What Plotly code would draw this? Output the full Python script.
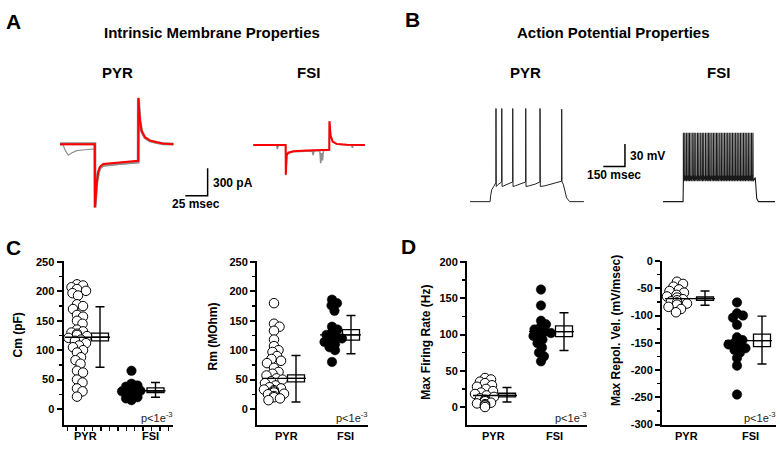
import plotly.graph_objects as go

W, H = 780, 451
FONT = "Liberation Sans"

# ---------------- DATA ----------------
# Panel A: voltage-clamp current traces (time in ms, current in pA)
PYR_A_T = [0, 39, 39.2, 40.0, 41.1, 42.9, 44.8, 48.5, 55, 63.5, 87.6, 87.8, 88.6, 89.6, 91.4, 95.2, 100.8, 108.3, 115, 127]
PYR_A_RED = [0, 0, -685, -560, -420, -297, -244, -215, -207, -201, -180, 505, 380, 251, 145, 74, 39, 21, 8, 0]
PYR_A_GRAY1 = [4, 4, -690, -570, -430, -310, -258, -228, -220, -212, -192, 498, 372, 246, 140, 72, 36, 18, 6, 3]
PYR_A_GRAY2_T = [0, 3.5, 6, 9.3, 13, 18.7, 28, 37.3, 39, 39.2, 40.0, 41.1, 42.9, 44.8, 48.5, 63.5, 87.6, 87.8, 89.6, 91.4, 95.2, 100.8, 108.3, 127]
PYR_A_GRAY2 = [-5, -8, -70, -120, -95, -70, -60, -50, -50, -680, -560, -430, -320, -265, -235, -220, -200, 480, 240, 135, 68, 32, 15, 0]

FSI_A_T = [0, 36.2, 36.4, 37.4, 39.2, 44.8, 60, 85.1, 85.3, 86.6, 88.9, 93.4, 105, 125]
FSI_A_RED = [0, 0, -324, -112, -85, -70, -62, -53, 258, 99, 36, 11, 3, 0]
FSI_A_GRAY_T = [0, 26, 27, 28, 36.2, 36.4, 37.4, 39.2, 44.8, 60, 66, 67, 68, 74.5, 75.5, 76.5, 77.5, 78.5, 85.1, 85.3, 86.6, 88.9, 93.4, 105, 110, 111, 112, 125]
FSI_A_GRAY = [-5, -5, -45, -5, -5, -330, -115, -88, -75, -68, -66, -110, -66, -62, -200, -90, -170, -60, -58, 250, 95, 32, 8, 0, 0, -30, 0, 0]

SCALE_A = [25, 300]      # ms, pA
SCALE_B = [150, 30]      # ms, mV

# Panel B: current-clamp voltage traces (time in ms, voltage in mV)
PYR_B_T = [0, 139, 143, 151, 164, 179, 180, 182, 190, 205, 219, 220, 222, 235, 260, 295, 296, 298, 315, 350,
           385, 386, 388, 410, 450, 484, 485, 487, 520, 580, 634, 635, 637, 646, 656, 669, 690, 789]
PYR_B_V = [-70, -70, -62, -54, -50, -45, 53, -50, -48, -46, -44, 53, -50, -49, -47, -44, 53, -50, -49, -47,
           -44, 53, -50, -49, -47, -44, 53, -50, -49, -46, -43, 52, -44, -47, -56, -65, -70, -70]

FSI_B_SPIKES = [141, 151, 162, 173, 183, 194, 206, 216, 227, 239, 249, 261, 272, 282, 294, 305, 316, 326, 338,
                349, 360, 371, 381, 393, 404, 415, 426, 437, 448, 459, 470, 481, 492, 503, 514, 525, 536, 547,
                558, 569, 580, 591, 602, 613, 623]
FSI_B_LEVELS = dict(rest=-70, on=139, off=639, end=776, pre=-35, peak=21, ahp=-43)

# Panels C / D: individual cells
CM_PYR = [212, 210, 207, 204, 201, 197, 193, 178, 175, 170, 160, 157, 150, 145, 135, 132, 130, 128, 126, 124,
          121, 118, 116, 112, 108, 105, 100, 96, 88, 83, 77, 65, 62, 50, 45, 35, 30, 21]
CM_FSI = [65, 43, 40, 38, 35, 33, 31, 30, 29, 28, 27, 25, 23, 20, 18, 15]
RM_PYR = [180, 145, 140, 133, 118, 107, 100, 97, 90, 85, 82, 78, 70, 63, 60, 57, 52, 50, 47, 44, 40, 37, 35,
          33, 32, 30, 28, 26, 25, 22, 20, 18, 15]
RM_FSI = [186, 180, 176, 167, 140, 135, 130, 126, 122, 120, 117, 114, 110, 105, 100, 80]
FR_PYR = [40, 38, 35, 33, 30, 28, 25, 22, 20, 18, 16, 14, 12, 10, 9, 8, 6, 5, 4, 3, 2, 0]
FR_FSI = [162, 140, 119, 114, 110, 107, 104, 102, 100, 98, 93, 88, 82, 75, 70, 63]
RV_PYR = [-38, -42, -47, -52, -55, -58, -62, -65, -67, -70, -72, -74, -76, -78, -80, -84, -88, -94]
RV_FSI = [-76, -96, -100, -104, -117, -140, -145, -150, -153, -157, -160, -163, -168, -178, -192, -245]

# summaries: [mean, box_low, box_high, whisker_low, whisker_high]
CM_PYR_STATS = [122, 116, 129, 71, 174]
CM_FSI_STATS = [31, 28, 36, 20, 45]
RM_PYR_STATS = [52, 46, 58, 12, 91]
RM_FSI_STATS = [126, 117, 135, 94, 159]
FR_PYR_STATS = [16, 14, 19, 7, 27]
FR_FSI_STATS = [104, 97, 112, 78, 130]
RV_PYR_STATS = [-69, -72, -66, -81, -55]
RV_FSI_STATS = [-146, -157, -134, -189, -101]

GROUPS = ["PYR", "FSI"]
TICKS_CM = [0, 50, 100, 150, 200, 250]
TICKS_FR = [0, 50, 100, 150, 200]
TICKS_RV = [-300, -250, -200, -150, -100, -50, 0]
P_TEXT = "p<1e<sup>-3</sup>"

# ---------------- helpers ----------------
layout_axes = {}
annotations = []
traces = []
n_axes = [0]


def new_axes(xdom, ydom, xorig, xppu, yorig, yppu, xstyle=None, ystyle=None):
    """xdom/ydom in pixels; xorig=(px, value); yorig=(py, value)."""
    n_axes[0] += 1
    k = "" if n_axes[0] == 1 else str(n_axes[0])
    xr = [xorig[1] + (xdom[0] - xorig[0]) / xppu, xorig[1] + (xdom[1] - xorig[0]) / xppu]
    yr = [yorig[1] - (ydom[1] - yorig[0]) / yppu, yorig[1] + (yorig[0] - ydom[0]) / yppu]
    xa = dict(domain=[xdom[0] / W, xdom[1] / W], range=xr, anchor="y" + k, visible=False,
              fixedrange=True, showgrid=False, zeroline=False)
    ya = dict(domain=[1 - ydom[1] / H, 1 - ydom[0] / H], range=yr, anchor="x" + k, visible=False,
              fixedrange=True, showgrid=False, zeroline=False)
    if xstyle:
        xa.update(xstyle)
    if ystyle:
        ya.update(ystyle)
    layout_axes["xaxis" + k] = xa
    layout_axes["yaxis" + k] = ya
    return "x" + k, "y" + k


def text(px, py, s, size, bold=True, xanchor="center", yanchor="middle", angle=0, color="black"):
    annotations.append(dict(x=px / W, y=1 - py / H, xref="paper", yref="paper", text=s, showarrow=False,
                            xanchor=xanchor, yanchor=yanchor, textangle=angle,
                            font=dict(family=FONT, size=size, color=color,
                                      weight="bold" if bold else "normal")))


def line(xa, ya, xs, ys, color, width):
    traces.append(go.Scatter(x=xs, y=ys, xaxis=xa, yaxis=ya, mode="lines",
                             line=dict(color=color, width=width), hoverinfo="skip"))


def swarm(values, ppu, center, min_dist=6.0, step=0.5, max_off=10):
    ys = [v * ppu for v in values]
    order = sorted(range(len(values)), key=lambda i: -values[i])
    placed = []
    xs = [center] * len(values)
    for i in order:
        y = ys[i]
        best = None
        k = 0
        while best is None and k * step <= max_off:
            cands = [0.0] if k == 0 else [k * step, -k * step]
            for off in cands:
                if all((off - a) ** 2 + (y - b) ** 2 >= min_dist ** 2 for a, b in placed):
                    best = off
                    break
            k += 1
        if best is None:
            best = 0.0
        placed.append((best, y))
        xs[i] = center + best
    return xs


# ---------------- Panel A ----------------
A_PPU_X, A_PPU_Y = 0.893, 0.0944
xa, ya = new_axes((55, 180), (85, 215), (60, 0), A_PPU_X, (142, 0), A_PPU_Y)
line(xa, ya, PYR_A_GRAY2_T, PYR_A_GRAY2, "#8f8f8f", 1.2)
line(xa, ya, PYR_A_T, PYR_A_GRAY1, "#8f8f8f", 3)
line(xa, ya, PYR_A_T, PYR_A_RED, "#ff0000", 2)

xa, ya = new_axes((248, 372), (85, 215), (253.3, 0), A_PPU_X, (142.7, 0), A_PPU_Y)
line(xa, ya, FSI_A_GRAY_T, FSI_A_GRAY, "#8f8f8f", 1.5)
line(xa, ya, FSI_A_T, FSI_A_RED, "#ff0000", 2)

xa, ya = new_axes((180, 215), (160, 200), (185.3, 0), A_PPU_X, (195, 0), A_PPU_Y)
line(xa, ya, [0, SCALE_A[0], SCALE_A[0]], [0, 0, SCALE_A[1]], "black", 1.5)
text(210.5, 182, f"{SCALE_A[1]} pA", 12, xanchor="left")
text(196, 203, f"{SCALE_A[0]} msec", 12)

text(14, 16, "A", 21)
text(212, 27, "Intrinsic Membrane Properties", 15)
text(117, 68, "PYR", 15)
text(308, 68, "FSI", 15)

# ---------------- Panel B ----------------
B_PPU_X, B_PPU_Y = 0.1444, 0.778
xa, ya = new_axes((465, 590), (95, 210), (470, 0), B_PPU_X, (201, -70), B_PPU_Y)
line(xa, ya, PYR_B_T, PYR_B_V, "#222222", 1)

L = FSI_B_LEVELS
fsi_t = [0, L["on"], L["on"] + 2]
fsi_v = [L["rest"], L["rest"], L["ahp"]]
for s in FSI_B_SPIKES:
    fsi_t += [s - 0.6, s, s + 1.2]
    fsi_v += [L["pre"], L["peak"], L["ahp"]]
fsi_t += [L["off"], L["off"] + 4, L["off"] + 10, L["off"] + 22, L["end"]]
fsi_v += [L["pre"] - 3, -55, -66, L["rest"], L["rest"]]
xa, ya = new_axes((658, 780), (95, 210), (663, 0), B_PPU_X, (201, -70), B_PPU_Y)
line(xa, ya, fsi_t, fsi_v, "#1a1a1a", 1.1)

xa, ya = new_axes((598, 632), (135, 170), (603.3, 0), B_PPU_X, (165, 0), B_PPU_Y)
line(xa, ya, [0, SCALE_B[0], SCALE_B[0]], [0, 0, SCALE_B[1]], "black", 1.5)
text(628, 154, f"{SCALE_B[1]} mV", 12, xanchor="left")
text(614, 174, f"{SCALE_B[0]} msec", 12)

text(412, 14, "B", 21)
text(613, 27, "Action Potential Properties", 15)
text(525, 68, "PYR", 15)
text(718, 68, "FSI", 15)

text(14, 248, "C", 21)
text(408, 247, "D", 21)


# ---------------- Panels C / D ----------------
def scatter_panel(x0, x1, yorig, ppu, ticks, pos, lab, vals, stats, ytitle, tpos, xticks=None):
    minor = [(a + b) / 2 for a, b in zip(ticks[:-1], ticks[1:])]
    xstyle = dict(visible=True, showline=True, linewidth=2, linecolor="black", showticklabels=False,
                  ticks="", tickmode="array", tickvals=[])
    if xticks is not None:
        xstyle.update(ticks="outside", tickvals=xticks, ticklen=4, tickwidth=1.5, tickcolor="black")
    ystyle = dict(visible=True, showline=True, linewidth=2, linecolor="black", ticks="outside",
                  ticklen=5, tickwidth=2, tickcolor="black", tickmode="array", tickvals=ticks,
                  ticktext=[str(t) for t in ticks],
                  tickfont=dict(family=FONT, size=11, color="black", weight="bold"),
                  minor=dict(tickmode="array", tickvals=minor, ticks="outside", ticklen=3,
                             tickwidth=1.5, tickcolor="black"))
    xa, ya = new_axes((x0, x1), (262, 430), (x0, 0), 1.0, yorig, ppu, xstyle, ystyle)
    for g in range(2):
        pts_c, box_c = pos[2 * g], pos[2 * g + 1]
        mean, blo, bhi, wlo, whi = stats[g]
        traces.append(go.Scatter(x=[box_c], y=[mean], xaxis=xa, yaxis=ya, mode="markers",
                                 marker=dict(size=1, color="rgba(0,0,0,0)"), hoverinfo="skip",
                                 error_y=dict(type="data", symmetric=False, array=[whi - mean],
                                              arrayminus=[mean - wlo], width=4.5, thickness=1.4,
                                              color="black")))
        traces.append(go.Box(x=[box_c], q1=[blo], median=[mean], q3=[bhi], lowerfence=[blo],
                             upperfence=[bhi], width=17, fillcolor="white", boxpoints=False,
                             line=dict(color="black", width=1.3), xaxis=xa, yaxis=ya, hoverinfo="skip"))
        xs = swarm(vals[g], ppu, pts_c)
        if g == 0:
            mk = dict(size=9.5, color="white", line=dict(color="black", width=1))
        else:
            mk = dict(size=9.5, color="black", line=dict(color="black", width=0.5))
        traces.append(go.Scatter(x=xs, y=vals[g], xaxis=xa, yaxis=ya, mode="markers", marker=mk,
                                 cliponaxis=False, hoverinfo="skip"))
        line(xa, ya, [pts_c - 12, box_c + 10], [mean, mean], "black", 1.4)
        text(x0 + lab[g], 441.7, GROUPS[g], 11)
    text(x1 + 2, 422, P_TEXT, 11, bold=False, xanchor="right", color="#222222")
    text(tpos[0], tpos[1], ytitle, 12, angle=-90)


scatter_panel(63.5, 173, (414, 0), 0.604, TICKS_CM, [13.5, 36.5, 68, 92], [21.5, 87],
              [CM_PYR, CM_FSI], [CM_PYR_STATS, CM_FSI_STATS], "Cm (pF)", (18.5, 338),
              xticks=[4 + 8.4 * k for k in range(13)])
scatter_panel(257, 368, (414, 0), 0.604, TICKS_CM, [17, 39, 75, 94], [29.5, 88],
              [RM_PYR, RM_FSI], [RM_PYR_STATS, RM_FSI_STATS], "Rm (MOhm)", (212.5, 339))
scatter_panel(467, 587, (412, 0), 0.745, TICKS_FR, [18, 40, 74, 97], [26.5, 87.5],
              [FR_PYR, FR_FSI], [FR_PYR_STATS, FR_FSI_STATS], "Max Firing Rate (Hz)", (426, 345))
scatter_panel(662, 776, (262, 0), 0.56, TICKS_RV, [15, 43, 75, 100], [24, 88],
              [RV_PYR, RV_FSI], [RV_PYR_STATS, RV_FSI_STATS], "Max Repol. Vel. (mV/msec)", (616, 334))

fig = go.Figure(data=traces)
fig.update_layout(width=W, height=H, margin=dict(l=0, r=0, t=0, b=0), showlegend=False,
                  paper_bgcolor="white", plot_bgcolor="white", annotations=annotations,
                  boxmode="overlay", font=dict(family=FONT), **layout_axes)
fig.write_html("out.html", config={"displayModeBar": False, "staticPlot": True},
               post_script=("var gd=document.getElementById('{plot_id}');"
                            "gd.style.position='fixed';gd.style.left='0px';gd.style.top='0px';"
                            "document.documentElement.style.margin='0';"
                            "document.documentElement.style.overflow='hidden';"
                            "document.body.style.margin='0';document.body.style.padding='0';"
                            "document.body.style.overflow='hidden';"))
